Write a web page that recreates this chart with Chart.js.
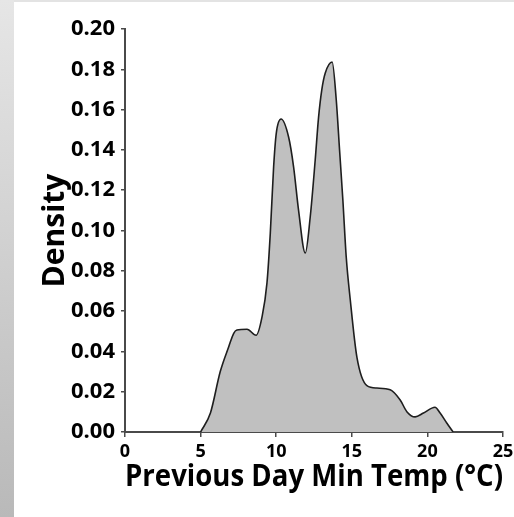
<!DOCTYPE html>
<html lang="en">
<head>
    <meta charset="UTF-8">
    <title>Previous Day Min Temp density</title>
    <script src="https://cdn.jsdelivr.net/npm/chart.js"></script>
    <style>
        body { margin: 0; background: #fff; }
        #wrap {
            position: relative;
            width: 514px;
            height: 517px;
            background:
                linear-gradient(#e6e6e6, #b9b9b9) left top / 14px 100% no-repeat,
                linear-gradient(#e3e3e3, #e3e3e3) left top / 100% 2px no-repeat,
                #fff;
        }
    </style>
</head>
<body>
    <div id="wrap">
        <canvas id="densityChart" width="514" height="517"></canvas>
    </div>

    <script>
        // Kernel density estimate, sampled along the temperature axis
        const temps = [5.0, 5.65, 6.3, 6.86, 7.19, 7.4, 8.07, 8.67, 9.06, 9.39, 9.61, 9.83, 10.0, 10.32, 10.82,
            11.15, 11.48, 11.92, 12.25, 12.58, 12.8, 13.02, 13.24, 13.7, 13.97, 14.19, 14.41, 14.63, 14.9,
            15.34, 16.0, 16.66, 17.54, 18.2, 18.64, 19.19, 19.74, 20.5, 20.84, 21.28, 21.7];
        const density = [0, 0.0094, 0.030, 0.0423, 0.049, 0.0506, 0.051, 0.048, 0.057, 0.074, 0.0987, 0.1316, 0.148, 0.1553, 0.1464,
            0.1316, 0.110, 0.0888, 0.1067, 0.135, 0.156, 0.170, 0.178, 0.1836, 0.165, 0.14, 0.115, 0.087, 0.0655,
            0.037, 0.023, 0.0218, 0.021, 0.0159, 0.0101, 0.0075, 0.0094, 0.0123, 0.0094, 0.0045, 0];

        const xTicks = [0, 5, 10, 15, 20, 25];
        const yTicks = [0, 0.02, 0.04, 0.06, 0.08, 0.10, 0.12, 0.14, 0.16, 0.18, 0.20];

        const points = temps.map((t, i) => ({ x: t, y: density[i] }));
        const axisColor = '#4a4a4a';
        const fontFamily = '"Open Sans", "DejaVu Sans", sans-serif';

        new Chart(document.getElementById('densityChart'), {
            type: 'line',
            data: {
                datasets: [{
                    data: points,
                    borderColor: '#1e1e1e',
                    borderWidth: 1.6,
                    backgroundColor: '#c0c0c0',
                    fill: 'origin',
                    pointRadius: 0,
                    cubicInterpolationMode: 'monotone'
                }]
            },
            options: {
                responsive: false,
                animation: false,
                layout: { padding: { top: 29, right: 11, left: 0, bottom: 0 } },
                plugins: { legend: { display: false }, tooltip: { enabled: false } },
                scales: {
                    x: {
                        type: 'linear',
                        min: 0,
                        max: 25,
                        afterBuildTicks: s => { s.ticks = xTicks.map(v => ({ value: v })); },
                        afterFit: s => { s.height = 85; s.paddingLeft = 0; s.paddingRight = 0; },
                        grid: { drawOnChartArea: false, tickLength: 5, color: axisColor, lineWidth: 1.5 },
                        border: { color: axisColor, width: 2 },
                        ticks: {
                            color: '#000',
                            padding: 4,
                            maxRotation: 0,
                            font: { family: fontFamily, weight: 'bold', size: 18 }
                        },
                        title: {
                            display: true,
                            text: 'Previous Day Min Temp (°C)',
                            color: '#000',
                            padding: { top: 0, bottom: 22 },
                            font: { family: fontFamily, weight: 'bold', size: 30 }
                        }
                    },
                    y: {
                        min: 0,
                        max: 0.2,
                        afterBuildTicks: s => { s.ticks = yTicks.map(v => ({ value: v })); },
                        afterFit: s => { s.width = 125; s.paddingTop = 0; s.paddingBottom = 0; },
                        grid: { drawOnChartArea: false, tickLength: 4, color: axisColor, lineWidth: 1.5 },
                        border: { color: axisColor, width: 2 },
                        ticks: {
                            color: '#000',
                            padding: 6,
                            callback: v => v.toFixed(2),
                            font: { family: fontFamily, weight: 'bold', size: 22 }
                        },
                        title: {
                            display: true,
                            text: 'Density',
                            color: '#000',
                            padding: { top: 37, bottom: 0 },
                            font: { family: fontFamily, weight: 'bold', size: 30 }
                        }
                    }
                }
            }
        });
    </script>
</body>
</html>
